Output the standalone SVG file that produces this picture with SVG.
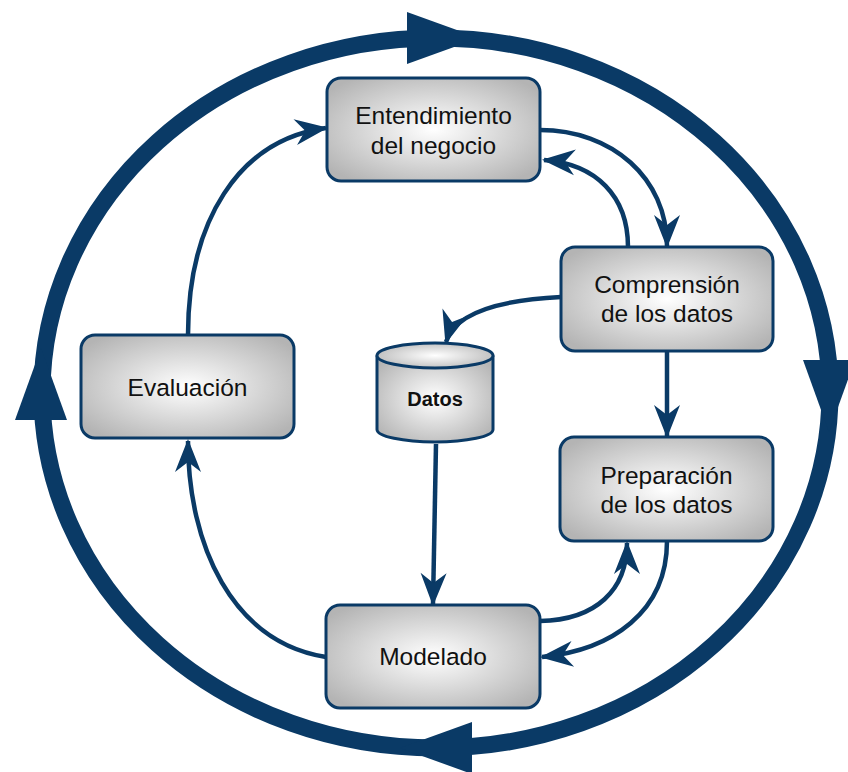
<svg xmlns="http://www.w3.org/2000/svg" width="848" height="772" viewBox="0 0 848 772">
  <style>
    .box { stroke: #0a3a66; stroke-width: 3; fill: url(#boxGrad); }
    .lbl { font-family: "Liberation Sans", Arial, sans-serif; font-size: 24.5px; fill: #111; text-anchor: middle; }
    .bold { font-weight: bold; font-size: 20px; }
    .conn { fill: none; stroke: #0a3a66; stroke-width: 4.5; marker-end: url(#barb); }
    .ring { fill: none; stroke: #0a3a66; stroke-width: 17; }
    .ringHead { fill: #0a3a66; }
  </style>
  <defs>
    <radialGradient id="boxGrad" cx="50%" cy="50%" r="62%">
      <stop offset="0" stop-color="#ffffff"/>
      <stop offset="1" stop-color="#b4b4b4"/>
    </radialGradient>
    <marker id="barb" markerUnits="userSpaceOnUse" markerWidth="40" markerHeight="40" viewBox="-36 -20 40 40" refX="0" refY="0" orient="auto" overflow="visible">
      <path d="M2,0 L-31,-13 L-21,0 L-31,13 Z" fill="#0a3a66"/>
    </marker>
    <path id="ringArrow" d="M0,0 L-72,-26 L-72,26 Z"/>
  </defs>

  <g id="cycle">
    <ellipse class="ring" cx="436" cy="393" rx="394" ry="355"/>
    <use href="#ringArrow" class="ringHead" transform="translate(479,38)"/>
    <use href="#ringArrow" class="ringHead" transform="translate(829,432) rotate(90)"/>
    <use href="#ringArrow" class="ringHead" transform="translate(400,748) rotate(180)"/>
    <use href="#ringArrow" class="ringHead" transform="translate(41,348) rotate(-90)"/>
  </g>

  <g id="connectors">
    <path class="conn" d="M540,130 C612,130 667,178 667,246"/>
    <path class="conn" d="M628,247 C628,196 596,164 544,160"/>
    <path class="conn" d="M561,297 C500,300 455,312 446,342"/>
    <path class="conn" d="M667,351 L667,436"/>
    <path class="conn" d="M436,444 L433,604"/>
    <path class="conn" d="M667,541 C667,612 612,650 542,657"/>
    <path class="conn" d="M540,621 C596,620 627,590 627,543"/>
    <path class="conn" d="M326,657 C232,642 188,545 188,441"/>
    <path class="conn" d="M188,335 C188,222 238,140 326,128"/>
  </g>

  <g id="entendimiento">
    <rect class="box" x="327" y="78" width="213" height="103" rx="14"/>
    <text class="lbl" x="433.5" y="123.5">Entendimiento</text>
    <text class="lbl" x="433.5" y="153.5">del negocio</text>
  </g>
  <g id="comprension">
    <rect class="box" x="561" y="247" width="212" height="104" rx="14"/>
    <text class="lbl" x="667" y="293">Comprensión</text>
    <text class="lbl" x="667" y="322">de los datos</text>
  </g>
  <g id="preparacion">
    <rect class="box" x="560" y="437" width="213" height="104" rx="14"/>
    <text class="lbl" x="666.5" y="484">Preparación</text>
    <text class="lbl" x="666.5" y="512.5">de los datos</text>
  </g>
  <g id="evaluacion">
    <rect class="box" x="81" y="335" width="213" height="103" rx="14"/>
    <text class="lbl" x="187.5" y="396">Evaluación</text>
  </g>
  <g id="modelado">
    <rect class="box" x="326" y="605" width="214" height="103" rx="14"/>
    <text class="lbl" x="433" y="664.5">Modelado</text>
  </g>
  <g id="datos">
    <path class="box" d="M377,355.5 L377,429.5 A58,12.5 0 0 0 493,429.5 L493,355.5"/>
    <ellipse class="box" cx="435" cy="355.5" rx="58" ry="12.5"/>
    <text class="lbl bold" x="435" y="406">Datos</text>
  </g>
</svg>
